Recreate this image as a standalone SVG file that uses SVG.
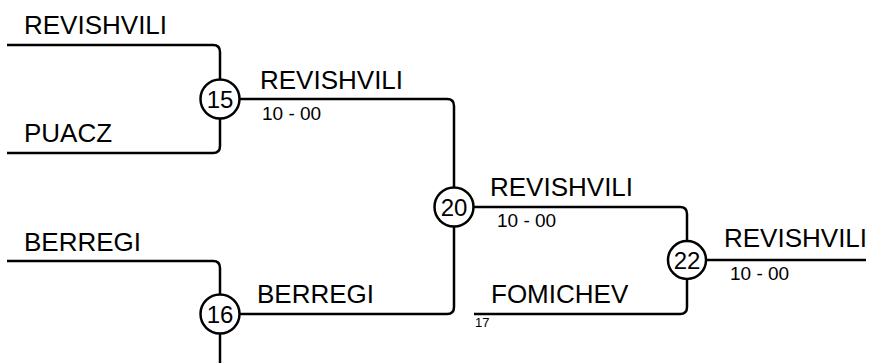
<svg xmlns="http://www.w3.org/2000/svg" width="871" height="363" viewBox="0 0 871 363">
<style>
.c{fill:none;stroke:#000;stroke-width:2.5}
.n{fill:#fff;stroke:#000;stroke-width:2.5}
.t{font-family:"Liberation Sans",Arial,sans-serif;font-size:26px;fill:#000}
.s{font-family:"Liberation Sans",Arial,sans-serif;font-size:19px;fill:#000}
.x{font-family:"Liberation Sans",Arial,sans-serif;font-size:13px;fill:#000}
.m{font-family:"Liberation Sans",Arial,sans-serif;font-size:24px;fill:#000;text-anchor:middle}
</style>
<rect width="871" height="363" fill="#fff"/>
<g id="connectors">
<path class="c" d="M7,45 H213 Q220,45 220,52 V79.5"/>
<path class="c" d="M7,153 H213 Q220,153 220,146 V118.5"/>
<path class="c" d="M239.5,99 H447 Q454,99 454,106 V187.5"/>
<path class="c" d="M239.5,314 H447 Q454,314 454,307 V226.5"/>
<path class="c" d="M7,261 H213 Q220,261 220,268 V294.5"/>
<path class="c" d="M220,333.5 V363"/>
<path class="c" d="M473.5,207 H680 Q687,207 687,214 V241"/>
<path class="c" d="M474,314 H680 Q687,314 687,307 V279"/>
<path class="c" d="M706,260 H866"/>
</g>
<g id="labels">
<text class="t" x="24" y="34">REVISHVILI</text>
<text class="t" x="24" y="142">PUACZ</text>
<text class="t" x="24" y="251">BERREGI</text>
<text class="t" x="260" y="89">REVISHVILI</text>
<text class="s" x="262" y="120">10 - 00</text>
<text class="t" x="257" y="303">BERREGI</text>
<text class="t" x="490" y="196">REVISHVILI</text>
<text class="s" x="497" y="227">10 - 00</text>
<text class="t" x="491" y="303">FOMICHEV</text>
<text class="x" x="475" y="327">17</text>
<text class="t" x="724" y="247">REVISHVILI</text>
<text class="s" x="730" y="280">10 - 00</text>
</g>
<g id="node15"><circle class="n" cx="220" cy="99" r="19.5"/><text class="m" x="220" y="107.5">15</text></g>
<g id="node16"><circle class="n" cx="220" cy="314" r="19.5"/><text class="m" x="220" y="322.5">16</text></g>
<g id="node20"><circle class="n" cx="454" cy="207" r="19.5"/><text class="m" x="454" y="215.5">20</text></g>
<g id="node22"><circle class="n" cx="687" cy="260" r="19"/><text class="m" x="687" y="268.5">22</text></g>
</svg>
